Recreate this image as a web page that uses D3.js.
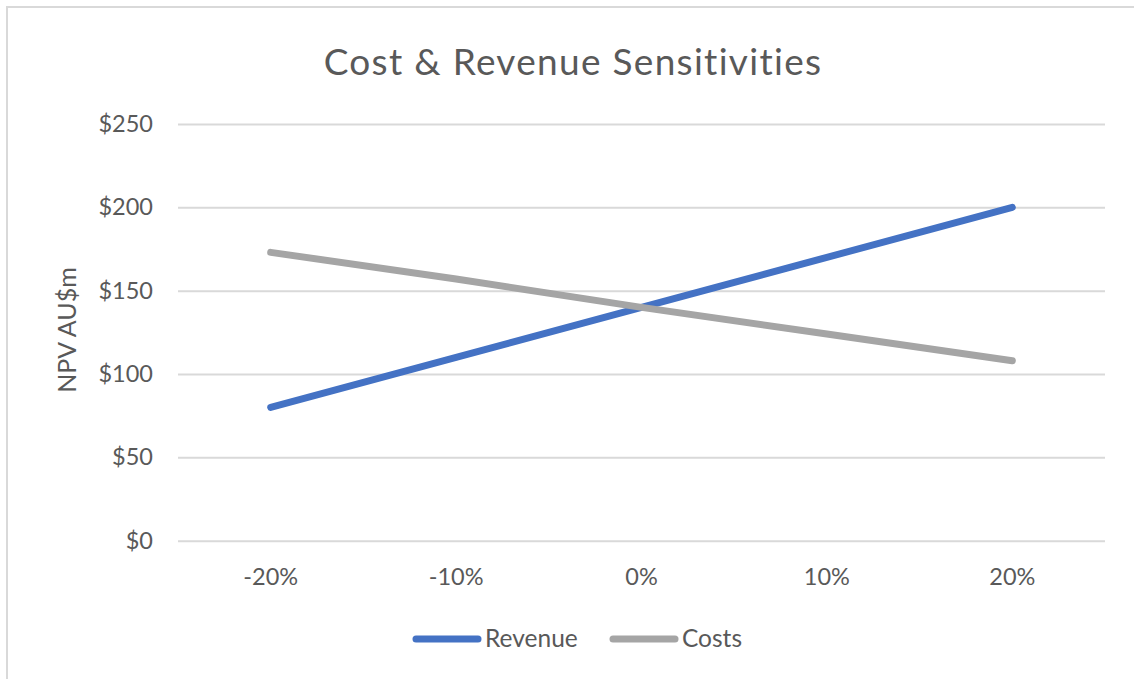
<!DOCTYPE html>
<html>
<head>
<meta charset="utf-8">
<script src="https://cdn.jsdelivr.net/npm/d3@7"></script>
<style>
  html, body { margin: 0; padding: 0; background: #fff; }
  svg { display: block; }
  text { font-family: Lato, "Open Sans", sans-serif; fill: #595959; }
</style>
</head>
<body>
<svg id="chart" width="1134" height="679"></svg>
<script>
// Sensitivity scenarios (% change) and NPV outcomes in AU$m
const categories = ["-20%", "-10%", "0%", "10%", "20%"];
const revenue = [80, 110, 140, 170, 200];
const costs = [173, 157, 140, 124, 108];
const yTicks = [0, 50, 100, 150, 200, 250];
const seriesNames = ["Revenue", "Costs"];
const seriesColors = ["#4472C4", "#A5A5A5"];

const svg = d3.select("#chart");
const W = 1134, H = 679;

// chart frame (only the top/left edges fall inside the view)
svg.append("rect")
  .attr("x", 7).attr("y", 7)
  .attr("width", W + 20).attr("height", H + 20)
  .attr("fill", "#fff")
  .attr("stroke", "#D9D9D9").attr("stroke-width", 2);

const plot = { left: 178, right: 1105, top: 124, bottom: 540.7 };

const x = d3.scaleBand().domain(categories).range([plot.left, plot.right]);
const y = d3.scaleLinear().domain([0, 250]).range([plot.bottom, plot.top]);

// horizontal gridlines + y labels
const yAxis = d3.axisLeft(y)
  .tickValues(yTicks)
  .tickSize(-(plot.right - plot.left))
  .tickPadding(25)
  .tickFormat(d => "$" + d);
const gy = svg.append("g").attr("transform", `translate(${plot.left},0)`).call(yAxis);
gy.select(".domain").remove();
gy.selectAll(".tick line").attr("stroke", "#D9D9D9").attr("stroke-width", 2);
gy.selectAll(".tick text").attr("font-size", 23.5).attr("fill", "#595959");

// x labels
const xAxis = d3.axisBottom(x).tickSize(0).tickPadding(28);
const gx = svg.append("g").attr("transform", `translate(0,${plot.bottom})`).call(xAxis);
gx.select(".domain").remove();
gx.selectAll(".tick text").attr("font-size", 23.5).attr("fill", "#595959");

// series lines
const line = d3.line()
  .x((d, i) => x(categories[i]) + x.bandwidth() / 2)
  .y(d => y(d));

[revenue, costs].forEach((vals, k) => {
  svg.append("path")
    .datum(vals)
    .attr("d", line)
    .attr("fill", "none")
    .attr("stroke", seriesColors[k])
    .attr("stroke-width", 7)
    .attr("stroke-linecap", "round")
    .attr("stroke-linejoin", "round");
});

// title
svg.append("text")
  .attr("x", 573).attr("y", 75)
  .attr("text-anchor", "middle")
  .attr("font-size", 37)
  .attr("letter-spacing", 1.3)
  .text("Cost & Revenue Sensitivities");

// y-axis title
svg.append("text")
  .attr("transform", "translate(76,330) rotate(-90)")
  .attr("text-anchor", "middle")
  .attr("font-size", 25)
  .text("NPV AU$m");

// legend
const legendItems = [
  { name: seriesNames[0], color: seriesColors[0], x0: 416 },
  { name: seriesNames[1], color: seriesColors[1], x0: 613 }
];
legendItems.forEach(it => {
  svg.append("line")
    .attr("x1", it.x0).attr("x2", it.x0 + 62)
    .attr("y1", 639).attr("y2", 639)
    .attr("stroke", it.color).attr("stroke-width", 7)
    .attr("stroke-linecap", "round");
  svg.append("text")
    .attr("x", it.x0 + 69).attr("y", 647)
    .attr("font-size", 24.5)
    .text(it.name);
});
</script>
</body>
</html>
